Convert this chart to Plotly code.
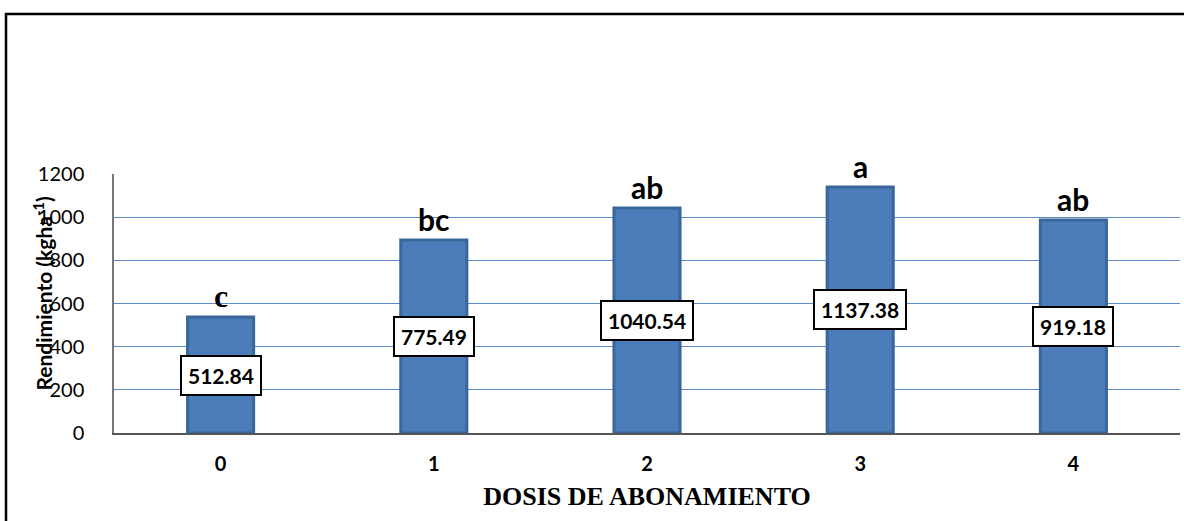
# -*- coding: utf-8 -*-
# %% Environment Setup
import plotly.graph_objects as go

# %% datos
dosis = ["0", "1", "2", "3", "4"]
rendimiento = [537, 894, 1042, 1140, 987]          # altura de las barras
etiqueta_valor = ["512.84", "775.49", "1040.54", "1137.38", "919.18"]
letra_tukey = ["c", "bc", "ab", "a", "ab"]
y_ticks = [0, 200, 400, 600, 800, 1000, 1200]

# %% layout numbers (pixels)
W, H = 1184, 521
m_l, m_r, m_t, m_b = 114, 4, 174, 88
plot_w = W - m_l - m_r
plot_h = H - m_t - m_b

azul = "#4A7DBA"
borde = "#3A6699"
grid = "#5B8BCB"

fig = go.Figure()

fig.add_bar(
    x=dosis,
    y=rendimiento,
    width=0.31,
    marker=dict(color=azul, line=dict(color=borde, width=3)),
    hoverinfo="skip",
)

# cajas con el valor, centradas en la barra
for d, h, t in zip(dosis, rendimiento, etiqueta_valor):
    fig.add_annotation(
        x=d, y=h / 2, text="<b>" + t + "</b>",
        showarrow=False,
        font=dict(family="Lato", size=21, color="black"),
        bgcolor="white", bordercolor="black", borderwidth=2, borderpad=6,
    )

# letras de significancia (the "c" is serif in the original)
for d, h, l in zip(dosis, rendimiento, letra_tukey):
    fam = "Liberation Serif" if l == "c" else "Lato"
    sz = 32 if l == "c" else 30
    fig.add_annotation(
        x=d, y=h, text="<b>" + l + "</b>",
        showarrow=False, yanchor="bottom", yshift=1,
        font=dict(family=fam, size=sz, color="black"),
    )

# y title as annotation so it can sit over the tick labels like the original
fig.add_annotation(
    xref="paper", yref="paper", x=0, y=0.5,
    xshift=-88, yshift=10,
    text="<b>Rendimiento (kgha<sup>-1</sup>)</b>",
    textangle=-90, showarrow=False,
    font=dict(family="Lato", size=21, color="black"),
)

# marco negro exterior
fig.add_shape(
    type="rect", xref="paper", yref="paper",
    x0=(6 - m_l) / plot_w, x1=(W + 10 - m_l) / plot_w,
    y0=-(m_b + 10) / plot_h, y1=(plot_h + m_t - 14) / plot_h,
    line=dict(color="black", width=2.5), layer="below",
)

fig.update_xaxes(
    showgrid=False,
    showline=True, linecolor="#555555", linewidth=2,
    tickfont=dict(family="Lato", size=20, color="black", weight="bold"),
    ticks="", ticklabelstandoff=12,
    title=dict(
        text="<b>DOSIS DE ABONAMIENTO</b>",
        font=dict(family="Liberation Serif", size=26, color="black"),
        standoff=13,
    ),
)

fig.update_yaxes(
    range=[0, 1200],
    tickvals=y_ticks,
    showgrid=True, gridcolor=grid, gridwidth=1.3,
    showline=True, linecolor="#777777", linewidth=1.5,
    zeroline=False,
    tickfont=dict(family="Lato", size=20, color="black"),
    ticks="", ticklabelstandoff=24,
)

fig.update_layout(
    width=W, height=H,
    margin=dict(l=m_l, r=m_r, t=m_t, b=m_b),
    plot_bgcolor="white", paper_bgcolor="white",
    showlegend=False,
)

# page has a default body margin, take it off so the figure fills the window
fig.write_html(
    "out.html",
    config={"displayModeBar": False},
    post_script="document.body.style.margin='0';",
)
